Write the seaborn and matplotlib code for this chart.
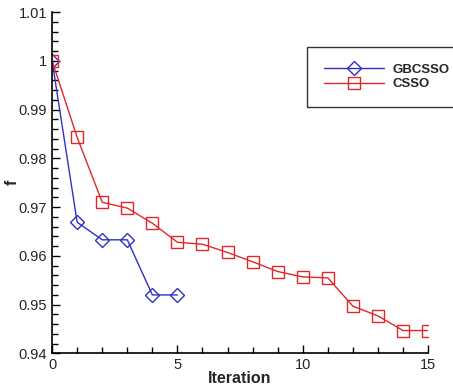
import matplotlib
matplotlib.use("Agg")
import matplotlib.pyplot as plt
import seaborn as sns
import pandas as pd
from matplotlib.ticker import MultipleLocator, FuncFormatter

iter_gb = [0, 1, 2, 3, 4, 5]
f_gb = [1.0, 0.9669, 0.9633, 0.9633, 0.9520, 0.9520]
iter_cs = list(range(16))
f_cs = [1.0, 0.9843, 0.9710, 0.9698, 0.9667, 0.9628, 0.9624, 0.9607,
        0.9588, 0.9568, 0.9557, 0.9555, 0.9497, 0.9477, 0.9447, 0.9447]
labels = ["GBCSSO", "CSSO"]

sns.set_style("ticks")
plt.rcParams['font.family'] = ['Liberation Sans', 'DejaVu Sans']

fig = plt.figure(figsize=(4.53, 3.88), dpi=100)
ax = fig.add_axes([0.115, 0.089, 0.83, 0.88])

blue = "#3030c8"
red = "#e02828"
sns.lineplot(x=iter_gb, y=f_gb, ax=ax, color=blue, lw=1.0, marker="D",
             markersize=7.5, markerfacecolor="none", markeredgecolor=blue,
             markeredgewidth=1.0, label=labels[0])
sns.lineplot(x=iter_cs, y=f_cs, ax=ax, color=red, lw=1.0, marker="s",
             markersize=9, markerfacecolor="none", markeredgecolor=red,
             markeredgewidth=1.0, label=labels[1])

ax.set_xlim(0, 15)
ax.set_ylim(0.94, 1.01)
ax.xaxis.set_major_locator(MultipleLocator(5))
ax.xaxis.set_minor_locator(MultipleLocator(1))
ax.yaxis.set_major_locator(MultipleLocator(0.01))
ax.yaxis.set_minor_locator(MultipleLocator(0.002))
ax.yaxis.set_major_formatter(FuncFormatter(lambda v, p: "%g" % round(v, 4)))
ax.tick_params(which="both", direction="in", labelsize=10.5, width=1, color="black")
ax.tick_params(which="major", length=6)
ax.tick_params(which="minor", length=4)
for s in ["top", "right"]:
    ax.spines[s].set_visible(False)
for s in ["left", "bottom"]:
    ax.spines[s].set_color("black")
    ax.spines[s].set_linewidth(1.2)
ax.set_xlabel("Iteration", fontsize=11.5, fontweight="bold")
ax.set_ylabel("f", fontsize=11.5, fontweight="bold")
ax.xaxis.set_label_coords(0.5, -0.05)
ax.yaxis.set_label_coords(-0.085, 0.5)

leg = ax.legend(loc="upper left", bbox_to_anchor=(0.678, 0.897), frameon=True,
                fancybox=False, edgecolor="black", prop={"weight": "bold", "size": 9.5},
                borderpad=1.25, handlelength=4.6, handletextpad=0.6, labelspacing=0.15,
                borderaxespad=0)
leg.get_frame().set_linewidth(1.0)

fig.savefig("out.png", dpi=100)
